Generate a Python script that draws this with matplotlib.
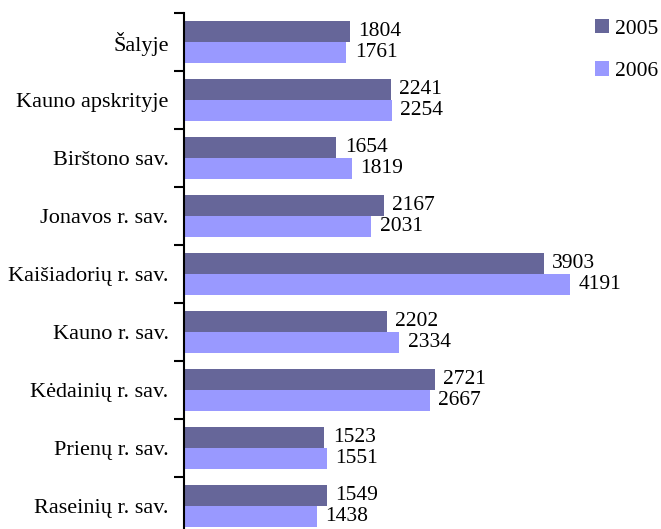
import matplotlib

matplotlib.use("Agg")
import matplotlib.pyplot as plt  # noqa: E402
import numpy as np  # noqa: E402

categories = [
    "Šalyje",
    "Kauno apskrityje",
    "Birštono sav.",
    "Jonavos r. sav.",
    "Kaišiadorių r. sav.",
    "Kauno r. sav.",
    "Kėdainių r. sav.",
    "Prienų r. sav.",
    "Raseinių r. sav.",
]
values_2005 = [1804, 2241, 1654, 2167, 3903, 2202, 2721, 1523, 1549]
values_2006 = [1761, 2254, 1819, 2031, 4191, 2334, 2667, 1551, 1438]
series_labels = ["2005", "2006"]

plt.rcParams["font.family"] = ["Liberation Serif", "DejaVu Serif"]
plt.rcParams["font.size"] = 15.5

W, H = 661, 529
fig = plt.figure(figsize=(W / 100, H / 100), dpi=100)
# axes in pixel coords: x from 184 to 645, y from 13 (top) to 535 (bottom, past the edge)
ax = fig.add_axes([184 / W, (H - 535) / H, (645 - 184) / W, (535 - 13) / H])

n = len(categories)
pos = np.arange(n)
bar_h = 0.36
b1 = ax.barh(pos - bar_h / 2, values_2005, height=bar_h, color="#666699", label=series_labels[0])
b2 = ax.barh(pos + bar_h / 2, values_2006, height=bar_h, color="#9999FF", label=series_labels[1])
ax.bar_label(b1, padding=6, fontsize=15.5)
ax.bar_label(b2, padding=6, fontsize=15.5)

ax.set_xlim(0, 5000)
ax.set_ylim(n - 0.5, -0.5)

ax.set_yticks(pos)
ax.set_yticklabels(categories, fontsize=16)
ax.tick_params(axis="y", which="major", length=0, pad=11)
ax.set_yticks(np.arange(n + 1) - 0.5, minor=True)
ax.tick_params(axis="y", which="minor", length=7, width=1.5, color="black")

ax.set_xticks([])
for side in ["top", "right", "bottom"]:
    ax.spines[side].set_visible(False)
ax.spines["left"].set_linewidth(1.5)

fig.legend(
    loc="upper left",
    bbox_to_anchor=(595 / W, 1 - 19 / H),
    frameon=False,
    borderpad=0,
    borderaxespad=0,
    handlelength=0.65,
    handleheight=0.65,
    handletextpad=0.3,
    labelspacing=1.05,
    fontsize=15.5,
)

fig.savefig("out.png", dpi=100)
